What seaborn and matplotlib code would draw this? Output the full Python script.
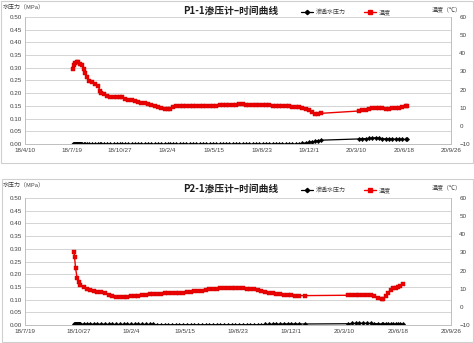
import matplotlib
matplotlib.use('Agg')
import matplotlib.pyplot as plt
import seaborn as sns
import pandas as pd
import numpy as np
from matplotlib.lines import Line2D
from matplotlib.patches import Rectangle

sns.set_theme(style='white')
plt.rcParams['font.family'] = ['Liberation Sans', 'Noto Sans CJK SC', 'DejaVu Sans']
CJK = ['Noto Sans CJK SC', 'DejaVu Sans']

# ---------------- P1-1 data ----------------
p1_dates = [
    "2018-07-21", "2018-07-23", "2018-07-25", "2018-07-28", "2018-08-01", "2018-08-04", "2018-08-08", "2018-08-12", "2018-08-15", "2018-08-19",
    "2018-08-24", "2018-08-29", "2018-09-05", "2018-09-12", "2018-09-15", "2018-09-18", "2018-09-24", "2018-09-30", "2018-10-07", "2018-10-14",
    "2018-10-21", "2018-10-28", "2018-11-01", "2018-11-07", "2018-11-14", "2018-11-21", "2018-11-28", "2018-12-05", "2018-12-12", "2018-12-19",
    "2018-12-26", "2019-01-02", "2019-01-09", "2019-01-16", "2019-01-23", "2019-01-30", "2019-02-06", "2019-02-10", "2019-02-17", "2019-02-24",
    "2019-03-03", "2019-03-10", "2019-03-17", "2019-03-24", "2019-03-31", "2019-04-07", "2019-04-14", "2019-04-21", "2019-04-28", "2019-05-05",
    "2019-05-12", "2019-05-19", "2019-05-26", "2019-06-02", "2019-06-09", "2019-06-16", "2019-06-23", "2019-06-30", "2019-07-07", "2019-07-14",
    "2019-07-21", "2019-07-28", "2019-08-04", "2019-08-11", "2019-08-18", "2019-08-25", "2019-09-01", "2019-09-08", "2019-09-15", "2019-09-22",
    "2019-09-29", "2019-10-06", "2019-10-13", "2019-10-20", "2019-10-27", "2019-11-03", "2019-11-10", "2019-11-17", "2019-11-24", "2019-12-01",
    "2019-12-08", "2019-12-14", "2019-12-20", "2019-12-26", "2020-03-16", "2020-03-23", "2020-03-30", "2020-04-06", "2020-04-13", "2020-04-20",
    "2020-04-27", "2020-05-04", "2020-05-11", "2020-05-18", "2020-05-25", "2020-06-01", "2020-06-08", "2020-06-15", "2020-06-22", "2020-06-25",
]
p1_temp = [
    31.2, 33.4, 34.8, 35.2, 35.1, 34.2, 33.5, 31.3, 28.9, 26.7,
    24.7, 24.0, 23.0, 21.9, 19.4, 18.3, 17.3, 16.5, 16.0, 15.9,
    15.9, 15.9, 15.8, 14.6, 14.4, 14.1, 13.8, 13.4, 12.8, 12.4,
    12.0, 11.4, 11.0, 10.4, 9.9, 9.5, 9.2, 9.2, 10.3, 11.0,
    10.9, 10.7, 10.7, 10.7, 10.7, 10.7, 10.7, 10.9, 11.0, 11.0,
    11.0, 11.1, 11.3, 11.4, 11.4, 11.6, 11.6, 11.7, 11.8, 11.8,
    11.7, 11.7, 11.6, 11.4, 11.4, 11.3, 11.3, 11.3, 11.1, 11.0,
    11.0, 10.9, 10.7, 10.7, 10.6, 10.4, 10.2, 9.9, 9.3, 8.5,
    7.4, 6.8, 6.8, 6.9, 8.2, 8.5, 8.9, 9.3, 9.6, 9.9,
    9.9, 9.6, 9.3, 9.3, 9.6, 9.7, 10.0, 10.4, 10.7, 10.9,
]
p1_pres = [
    0.0, 0.0, 0.0, 0.0, 0.0, 0.0, 0.0, 0.0, 0.0, 0.0,
    0.0, 0.0, 0.0, 0.0, 0.0, 0.0, 0.0, 0.0, 0.0, 0.0,
    0.0, 0.0, 0.0, 0.0, 0.0, 0.0, 0.0, 0.0, 0.0, 0.0,
    0.0, 0.0, 0.0, 0.0, 0.0, 0.0, 0.0, 0.0, 0.0, 0.0,
    0.0, 0.0, 0.0, 0.0, 0.0, 0.0, 0.0, 0.0, 0.0, 0.0,
    0.0, 0.0, 0.0, 0.0, 0.0, 0.0, 0.0, 0.0, 0.0, 0.0,
    0.0, 0.0, 0.0, 0.0, 0.0, 0.0, 0.0, 0.0, 0.0, 0.0,
    0.0, 0.0, 0.0, 0.0, 0.0, 0.0, 0.0, 0.002, 0.004, 0.006,
    0.008, 0.010, 0.013, 0.015, 0.020, 0.021, 0.021, 0.022, 0.023, 0.025,
    0.023, 0.021, 0.020, 0.020, 0.019, 0.019, 0.019, 0.018, 0.018, 0.018,
]
p1_dense_dates = ["2018-07-22", "2018-07-24", "2018-07-26", "2018-07-27", "2018-07-29", "2018-07-30",
                  "2018-07-31", "2018-08-02", "2018-08-03", "2018-08-05", "2018-08-06", "2018-08-07"]
p1_dense_pres = [0.0, 0.0, 0.0, 0.0, 0.0, 0.0, 0.0, 0.0, 0.0, 0.0, 0.0, 0.0]

# ---------------- P2-1 data ----------------
p2_dates = [
    "2018-10-19", "2018-10-20", "2018-10-22", "2018-10-25", "2018-10-28", "2018-10-31", "2018-11-06", "2018-11-12", "2018-11-18", "2018-11-25",
    "2018-12-02", "2018-12-09", "2018-12-16", "2018-12-23", "2018-12-30", "2019-01-06", "2019-01-13", "2019-01-20", "2019-01-27", "2019-02-03",
    "2019-02-10", "2019-02-17", "2019-02-24", "2019-03-03", "2019-03-10", "2019-03-17", "2019-03-24", "2019-03-31", "2019-04-07", "2019-04-14",
    "2019-04-21", "2019-04-28", "2019-05-05", "2019-05-12", "2019-05-19", "2019-05-26", "2019-06-02", "2019-06-09", "2019-06-16", "2019-06-23",
    "2019-06-30", "2019-07-07", "2019-07-14", "2019-07-21", "2019-07-28", "2019-08-04", "2019-08-11", "2019-08-18", "2019-08-25", "2019-09-01",
    "2019-09-08", "2019-09-15", "2019-09-22", "2019-09-29", "2019-10-06", "2019-10-13", "2019-10-20", "2019-10-27", "2019-11-03", "2019-11-10",
    "2019-11-17", "2019-11-24", "2019-12-01", "2019-12-08", "2019-12-15", "2019-12-27", "2020-03-17", "2020-03-24", "2020-03-31", "2020-04-07",
    "2020-04-14", "2020-04-21", "2020-04-28", "2020-05-05", "2020-05-12", "2020-05-19", "2020-05-22", "2020-05-27", "2020-05-31", "2020-06-05",
    "2020-06-10", "2020-06-15", "2020-06-19", "2020-06-23", "2020-06-27",
]
p2_temp = [
    30.5, 27.7, 21.2, 15.8, 13.5, 12.1, 10.7, 9.9, 9.2, 8.8,
    8.3, 8.1, 7.4, 6.7, 6.1, 5.7, 5.4, 5.3, 5.5, 5.8,
    6.1, 6.2, 6.5, 6.7, 6.9, 6.9, 7.1, 7.2, 7.4, 7.5,
    7.5, 7.6, 7.8, 7.9, 8.1, 8.2, 8.5, 8.8, 9.0, 9.3,
    9.6, 9.7, 10.0, 10.2, 10.2, 10.3, 10.3, 10.3, 10.2, 10.2,
    10.0, 9.9, 9.7, 9.5, 8.9, 8.2, 7.8, 7.5, 7.2, 6.9,
    6.7, 6.5, 6.4, 6.2, 6.2, 6.2, 6.4, 6.4, 6.4, 6.4,
    6.5, 6.7, 6.4, 5.8, 5.1, 4.4, 4.1, 6.1, 7.8, 9.2,
    10.2, 10.6, 11.1, 11.7, 12.5,
]
p2_pres = [
    0.004, 0.004, 0.004, 0.004, 0.004, 0.004, 0.003, 0.003, 0.003, 0.003,
    0.003, 0.003, 0.003, 0.002, 0.002, 0.002, 0.002, 0.002, 0.002, 0.002,
    0.002, 0.002, 0.002, 0.002, 0.002, 0.002, 0.001, 0.001, 0.001, 0.001,
    0.001, 0.001, 0.001, 0.001, 0.001, 0.001, 0.001, 0.001, 0.001, 0.001,
    0.001, 0.001, 0.001, 0.001, 0.001, 0.001, 0.001, 0.001, 0.001, 0.001,
    0.001, 0.001, 0.001, 0.001, 0.001, 0.002, 0.002, 0.003, 0.003, 0.003,
    0.004, 0.004, 0.004, 0.004, 0.004, 0.004, 0.005, 0.006, 0.006, 0.006,
    0.007, 0.006, 0.006, 0.005, 0.005, 0.004, 0.004, 0.004, 0.003, 0.003,
    0.003, 0.003, 0.003, 0.003, 0.003,
]
p2_dense_dates = ["2018-10-21", "2018-10-23", "2018-10-24", "2018-10-26", "2018-10-27", "2018-10-29", "2018-10-30"]
p2_dense_pres = [0.004, 0.004, 0.004, 0.004, 0.004, 0.004, 0.004]

titles = ["P1-1渗压计–时间曲线", "P2-1渗压计–时间曲线"]
left_label = "水压力（MPa）"
right_label = "温度（℃）"
legend_labels = ["渗透水压力", "温度"]

W, H = 474, 343
fig = plt.figure(figsize=(W / 100, H / 100), dpi=100)


def fx(px):
    return px / W


def fy(py):
    return 1 - py / H


def panel(top_px, bottom_px, frame, title, dates, temp, pres, ddates, dpres, xmin, xmax):
    ax = fig.add_axes([fx(25), fy(bottom_px), fx(451) - fx(25), (bottom_px - top_px) / H])
    ax2 = ax.twinx()
    pdf = pd.DataFrame({"date": pd.to_datetime(list(dates) + list(ddates)),
                        "pres": list(pres) + list(dpres)}).sort_values("date")
    tdf = pd.DataFrame({"date": pd.to_datetime(dates), "temp": temp}).sort_values("date")
    # markers (seaborn)
    sns.scatterplot(data=pdf, x="date", y="pres", ax=ax, color="black", marker="D",
                    s=5, edgecolor="black", linewidth=0.3, zorder=3)
    sns.scatterplot(data=tdf, x="date", y="temp", ax=ax2, color="#ee0000", marker="s",
                    s=6, edgecolor="#c80000", linewidth=0.3, zorder=3)
    # connecting lines through the same data
    ax.plot(pdf["date"], pdf["pres"], color="black", linewidth=0.9, zorder=2)
    ax2.plot(tdf["date"], tdf["temp"], color="#ee0000", linewidth=1.0, zorder=2)
    ax.set_ylim(0, 0.5)
    ax2.set_ylim(-10, 60)
    ax.set_yticks(np.arange(0, 0.501, 0.05))
    ax.set_yticklabels([f"{v:.2f}" for v in np.arange(0, 0.501, 0.05)])
    ax2.set_yticks(np.arange(-10, 61, 10))
    ticks = pd.date_range(xmin, xmax, freq="100D")
    ax.set_xlim(pd.Timestamp(xmin), pd.Timestamp(xmax))
    ax.set_xticks(ticks)
    ax.set_xticklabels([f"{t.year % 100}/{t.month}/{t.day}" for t in ticks])
    ax.yaxis.grid(True, color="#d4d4d4", lw=0.7)
    ax.xaxis.grid(False)
    ax.set_axisbelow(True)
    for a in (ax, ax2):
        a.set_xlabel("")
        a.set_ylabel("")
        for s in a.spines.values():
            s.set_color("#c0c0c0")
            s.set_linewidth(0.7)
        a.spines["top"].set_visible(False)
    ax.tick_params(axis="both", length=0, labelsize=4.5, colors="#404040")
    ax.tick_params(axis="y", pad=2.5)
    ax.tick_params(axis="x", pad=3)
    ax2.tick_params(axis="y", length=0, labelsize=4.5, colors="#404040", pad=6)
    # chart frame
    fig.patches.append(Rectangle((fx(frame[0]), fy(frame[3])), fx(frame[2]) - fx(frame[0]),
                                 fy(frame[1]) - fy(frame[3]), transform=fig.transFigure,
                                 fill=False, edgecolor="#cfcfcf", lw=0.8))
    ty = frame[1]
    fig.text(fx(3), fy(ty + 6), left_label, fontsize=4.3, family=CJK, color="#404040",
             ha="left", va="center")
    fig.text(fx(231), fy(ty + 10), title, fontsize=7, family=CJK, fontweight="bold",
             color="#202020", ha="center", va="center")
    fig.text(fx(432), fy(ty + 8), right_label, fontsize=4.3, family=CJK, color="#404040",
             ha="left", va="center")
    ly = fy(ty + 11)
    fig.add_artist(Line2D([fx(301), fx(313)], [ly, ly], color="black", lw=0.9,
                          transform=fig.transFigure))
    fig.add_artist(Line2D([fx(307)], [ly], color="black", marker="D", markersize=2.2,
                          transform=fig.transFigure))
    fig.text(fx(316), ly, legend_labels[0], fontsize=4.3, family=CJK, color="#404040",
             ha="left", va="center")
    fig.add_artist(Line2D([fx(364), fx(376)], [ly, ly], color="#ee0000", lw=1.0,
                          transform=fig.transFigure))
    fig.add_artist(Line2D([fx(370)], [ly], color="#ee0000", marker="s", markersize=2.2,
                          transform=fig.transFigure))
    fig.text(fx(379), ly, legend_labels[1], fontsize=4.3, family=CJK, color="#404040",
             ha="left", va="center")


panel(17, 144, (1, 1, 473, 163), titles[0], p1_dates, p1_temp, p1_pres,
      p1_dense_dates, p1_dense_pres, "2018-04-10", "2020-09-26")
panel(198, 325, (2, 179, 473, 342), titles[1], p2_dates, p2_temp, p2_pres,
      p2_dense_dates, p2_dense_pres, "2018-07-19", "2020-09-26")

fig.savefig("out.png", dpi=100, facecolor="white")
